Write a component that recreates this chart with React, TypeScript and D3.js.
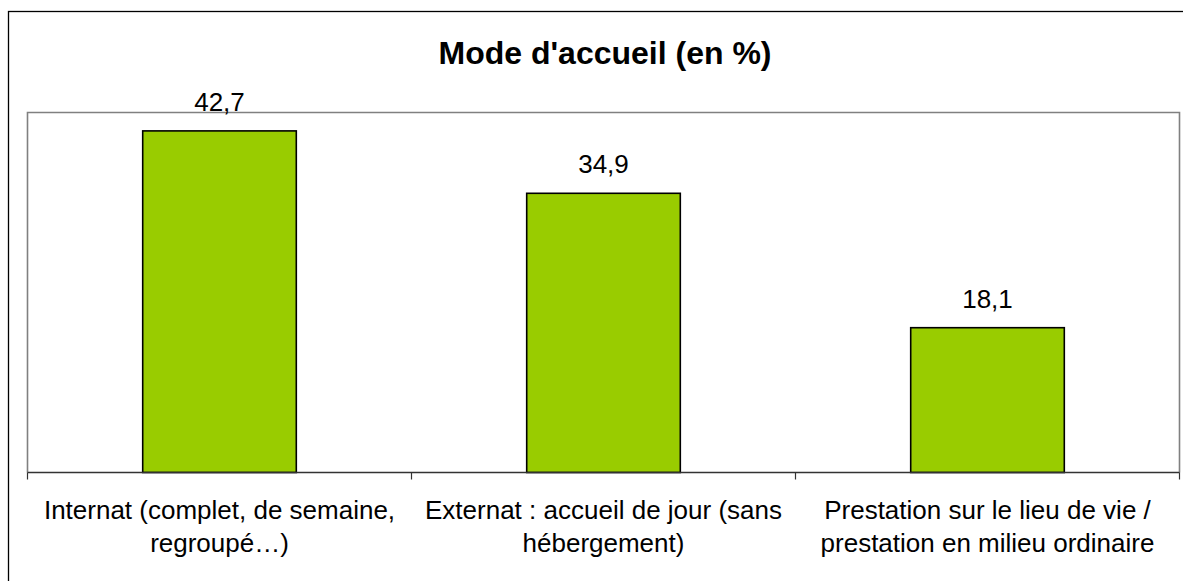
import React from "react";
import * as d3 from "d3";

const title = "Mode d'accueil (en %)";
const categories = [
  "Internat (complet, de semaine, regroupé…)",
  "Externat : accueil de jour (sans hébergement)",
  "Prestation sur le lieu de vie / prestation en milieu ordinaire",
];
const categoryLines = [
  ["Internat (complet, de semaine,", "regroupé…)"],
  ["Externat : accueil de jour (sans", "hébergement)"],
  ["Prestation sur le lieu de vie /", "prestation en milieu ordinaire"],
];
const values = [42.7, 34.9, 18.1];
const valueLabels = ["42,7", "34,9", "18,1"];

export default function App() {
  const W = 1183;
  const H = 581;
  const left = 27.5;
  const right = 1179.5;
  const top = 112.5;
  const bottom = 472.5;
  const font = "'Liberation Sans', Arial, sans-serif";

  const x = d3
    .scaleBand<string>()
    .domain(categories)
    .range([left, right])
    .paddingInner(0.6)
    .paddingOuter(0.3);
  const y = d3.scaleLinear().domain([0, 45]).range([bottom, top]);
  const step = x.step();
  const boundaries = d3.range(categories.length + 1).map((i) => left + i * step);

  return (
    <svg
      width={W}
      height={H}
      style={{ position: "absolute", left: 0, top: 0, background: "#fff" }}
    >
      <rect x={8.5} y={11.5} width={1300} height={700} fill="#fff" stroke="#000" strokeWidth={1.3} />
      <text
        x={605}
        y={64}
        textAnchor="middle"
        fontFamily={font}
        fontWeight="bold"
        fontSize={32}
        fill="#000"
      >
        {title}
      </text>
      {/* plot area border */}
      <path
        d={`M${left},${bottom} L${left},${top} L${right},${top} L${right},${bottom}`}
        fill="none"
        stroke="#808080"
        strokeWidth={1.6}
      />
      {categories.map((c, i) => (
        <rect
          key={c}
          x={x(c)!}
          y={y(values[i])}
          width={x.bandwidth()}
          height={y(0) - y(values[i])}
          fill="#99CC00"
          stroke="#000"
          strokeWidth={1.6}
        />
      ))}
      {/* axis line */}
      <line x1={left} x2={right} y1={bottom} y2={bottom} stroke="#333" strokeWidth={1.6} />
      {boundaries.map((b, i) => (
        <line key={i} x1={b} x2={b} y1={bottom} y2={bottom + 7} stroke="#333" strokeWidth={1.2} />
      ))}
      {categories.map((c, i) => (
        <text
          key={c + "v"}
          x={x(c)! + x.bandwidth() / 2}
          y={y(values[i]) - 20}
          textAnchor="middle"
          fontFamily={font}
          fontSize={26}
          fill="#000"
        >
          {valueLabels[i]}
        </text>
      ))}
      {categories.map((c, i) => (
        <text
          key={c + "l"}
          textAnchor="middle"
          fontFamily={font}
          fontSize={26}
          fill="#000"
        >
          {categoryLines[i].map((ln, j) => (
            <tspan key={j} x={x(c)! + x.bandwidth() / 2} y={519 + j * 33}>
              {ln}
            </tspan>
          ))}
        </text>
      ))}
    </svg>
  );
}
